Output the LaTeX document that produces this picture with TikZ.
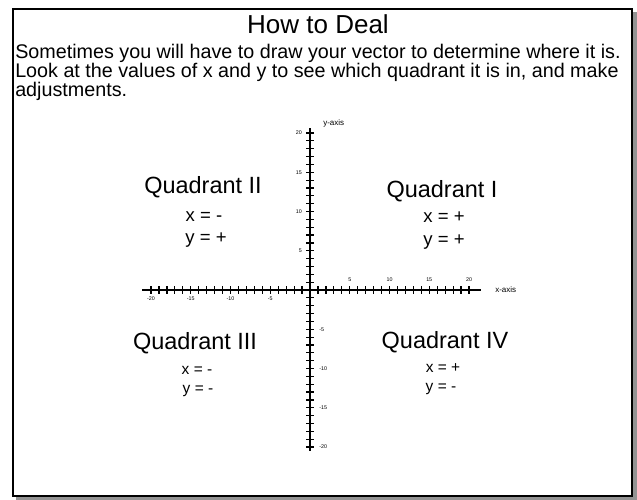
\documentclass[tikz,border=0pt]{standalone}
\usepackage{fontspec}
\setmainfont{Liberation Sans}
\usetikzlibrary{positioning}

\begin{document}
\begin{tikzpicture}[x=0.75pt, y=-0.75pt,
      ttl/.style={font=\fontsize{19.5}{22}\selectfont, inner sep=0pt},
      body/.style={font=\fontsize{14.8}{13.9}\selectfont, align=left, inner sep=0pt},
      quad/.style={font=\fontsize{17.6}{20}\selectfont, inner sep=0pt},
      sgn/.style={font=\fontsize{13.9}{16}\selectfont, inner sep=0pt},
      sgnsm/.style={font=\fontsize{11.6}{14}\selectfont, inner sep=0pt},
      axl/.style={font=\fontsize{6}{7}\selectfont, inner sep=0pt},
      tkl/.style={font=\fontsize{4}{5}\selectfont, inner sep=0pt},
      axis/.style={line width=2pt},
      tick/.style={line width=0.9pt}]

    \useasboundingbox (0,0) rectangle (637,500);

    % ============================
    % FRAME with shadow
    % ============================
    \fill[gray!85] (16,12) rectangle (637,500);
    \draw[line width=2pt, fill=white] (13,9) rectangle (632,496);

    % ============================
    % TEXT
    % ============================
    \node[ttl, anchor=base] (title) at (318,33) {How to Deal};
    \node[body, anchor=base west] (intro1) at (15,58)
      {Sometimes you will have to draw your vector to determine where it is.};
    \node[body, anchor=base west] (intro2) at (15,77)
      {Look at the values of x and y to see which quadrant it is in, and make};
    \node[body, anchor=base west] (intro3) at (15,96) {adjustments.};

    % ============================
    % AXES
    % ============================
    \def\ux{7.95}
    \def\uy{7.85}
    \coordinate (o) at (310,290);
    \coordinate (xa) at (142,290);
    \coordinate (xb) at (481,290);
    \coordinate (ya) at (310,128);
    \coordinate (yb) at (310,451);
    \draw[axis] (xa) -- (xb);
    \draw[axis] (ya) -- (yb);

    % ticks every unit
    \foreach \i in {-20,...,-1,1,2,...,20} {
      \draw[tick] ([xshift=\i*\ux*0.75pt, yshift=4*0.75pt]o) -- ++(0,8);
      \draw[tick] ([yshift=-\i*\uy*0.75pt, xshift=-4*0.75pt]o) -- ++(8,0);
    }

    % tick labels
    \foreach \i in {5,10,15,20} {
      \node[tkl] at ([xshift=\i*\ux*0.75pt, yshift=10*0.75pt]o) {\i};
      \node[tkl] at ([xshift=-\i*\ux*0.75pt, yshift=-9*0.75pt]o) {-\i};
      \node[tkl, anchor=east] at ([yshift=\i*\uy*0.75pt, xshift=-8*0.75pt]o) {\i};
      \node[tkl, anchor=west] at ([yshift=-\i*\uy*0.75pt, xshift=9*0.75pt]o) {-\i};
    }

    \node[axl, anchor=west] (xlbl) at ([xshift=14*0.75pt]xb) {x-axis};
    \node[axl, anchor=west] (ylbl) at ([xshift=13*0.75pt, yshift=5*0.75pt]ya) {y-axis};

    % ============================
    % QUADRANTS
    % ============================
    \node[quad, anchor=base] (q2) at (203,193) {Quadrant II};
    \node[sgn, anchor=base] (q2x) at (204,221) {x = -};
    \node[sgn, anchor=base] (q2y) at (206,243) {y = +};

    \node[quad, anchor=base] (q1) at (442,197) {Quadrant I};
    \node[sgn, anchor=base] (q1x) at (444,222) {x = +};
    \node[sgn, anchor=base] (q1y) at (444,245) {y = +};

    \node[quad, anchor=base] (q3) at (195,349) {Quadrant III};
    \node[sgnsm, anchor=base] (q3x) at (197,374) {x = -};
    \node[sgnsm, anchor=base] (q3y) at (198,393) {y = -};

    \node[quad, anchor=base] (q4) at (445,348) {Quadrant IV};
    \node[sgnsm, anchor=base] (q4x) at (443,372) {x = +};
    \node[sgnsm, anchor=base] (q4y) at (441,391) {y = -};

\end{tikzpicture}
\end{document}
